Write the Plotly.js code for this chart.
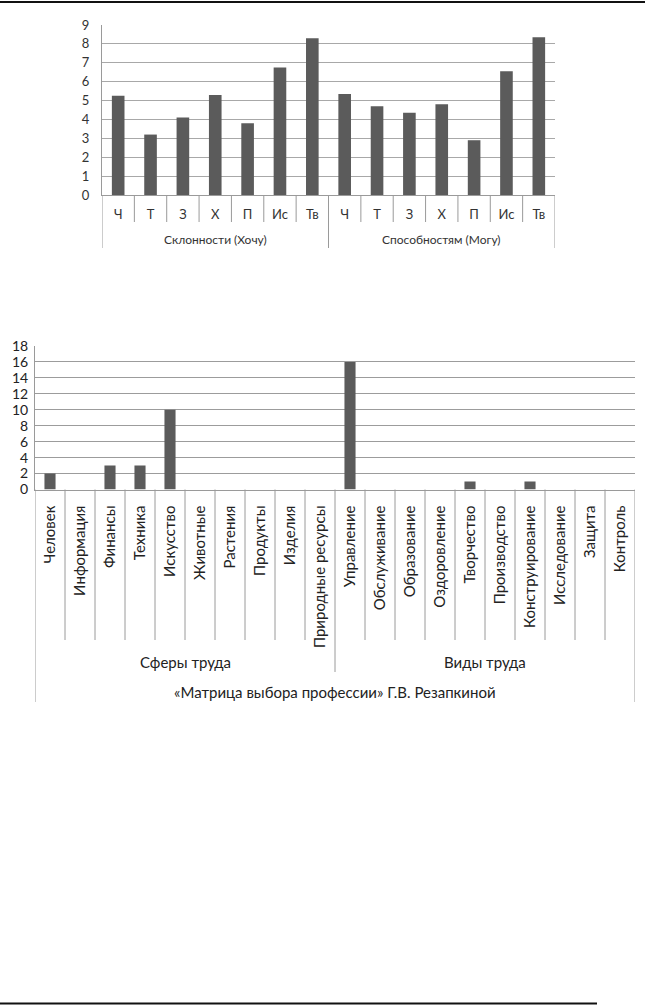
<!DOCTYPE html>
<html>
<head>
<meta charset="utf-8">
<script src="https://cdn.plot.ly/plotly-3.0.1.min.js"></script>
<style>
  html, body { margin: 0; padding: 0; background: #fff; }
  #graph { width: 646px; height: 1005px; }
</style>
</head>
<body>
<div id="graph"></div>
<script>
'use strict';

// top chart: inclinations vs abilities
var topCats = ['Ч', 'Т', 'З', 'Х', 'П', 'Ис', 'Тв'];
var topGroups = ['Склонности (Хочу)', 'Способностям (Могу)'];
var wantValues = [5.25, 3.2, 4.1, 5.3, 3.8, 6.75, 8.3];
var canValues = [5.35, 4.7, 4.35, 4.8, 2.9, 6.55, 8.35];
var topTicks = [0, 1, 2, 3, 4, 5, 6, 7, 8, 9];

// bottom chart: matrix of profession choice
var spheres = ['Человек', 'Информация', 'Финансы', 'Техника', 'Искусство',
  'Животные', 'Растения', 'Продукты', 'Изделия', 'Природные ресурсы'];
var kinds = ['Управление', 'Обслуживание', 'Образование', 'Оздоровление', 'Творчество',
  'Производство', 'Конструирование', 'Исследование', 'Защита', 'Контроль'];
var spheresValues = [2, 0, 3, 3, 10, 0, 0, 0, 0, 0];
var kindsValues = [16, 0, 0, 0, 1, 0, 1, 0, 0, 0];
var bottomGroups = ['Сферы труда', 'Виды труда'];
var bottomTitle = '«Матрица выбора профессии» Г.В. Резапкиной';
var bottomTicks = [0, 2, 4, 6, 8, 10, 12, 14, 16, 18];

var H = 1005, W = 646;
function py(v) { return 1 - v / H; }
function px(v) { return v / W; }

var FONT = 'Lato, "Open Sans", sans-serif';
var BAR = '#5b5b5b';
var GRID = '#a8a8a8';
var LINE = '#9a9a9a';

var topLabels = topCats.concat(topCats);
var topValues = wantValues.concat(canValues);
var topX = topLabels.map(function (d, i) { return i; });

var botLabels = spheres.concat(kinds);
var botValues = spheresValues.concat(kindsValues);
var botX = botLabels.map(function (d, i) { return i; });

var trace1 = {
  x: topX, y: topValues, type: 'bar', width: 0.39,
  marker: { color: BAR }, xaxis: 'x', yaxis: 'y', hoverinfo: 'y'
};
var trace2 = {
  x: botX, y: botValues, type: 'bar', width: 0.37,
  marker: { color: BAR }, xaxis: 'x2', yaxis: 'y2', hoverinfo: 'y'
};

var shapes = [];
var annotations = [];
function vline(xref, x, y0, y1) {
  shapes.push({ type: 'line', xref: xref, yref: 'paper', x0: x, x1: x,
    y0: py(y0), y1: py(y1), line: { color: LINE, width: 1 } });
}
function label(xref, x, y, text, size, color) {
  annotations.push({ xref: xref, yref: 'paper', x: x, y: py(y), yanchor: 'middle',
    xanchor: 'center', text: text, showarrow: false,
    font: { family: FONT, size: size, color: color } });
}

// top chart separators
var nTop = topCats.length;
for (var i = 1; i < topLabels.length; i++) {
  if (i % nTop !== 0) vline('x', i - 0.5, 195, 222);
}
for (var g = 0; g <= topGroups.length; g++) vline('x', g * nTop - 0.5, 195, 248);
topGroups.forEach(function (name, k) {
  label('x', k * nTop + (nTop - 1) / 2, 239, name, 12, '#333');
});

// bottom chart separators
var nBot = spheres.length;
for (var j = 1; j < botLabels.length; j++) {
  if (j !== nBot) vline('x2', j - 0.5, 489.5, 640);
}
vline('x2', nBot - 0.5, 489.5, 672);
vline('x2', -0.5, 489.5, 702);
vline('x2', botLabels.length - 0.5, 489.5, 702);
bottomGroups.forEach(function (name, k) {
  label('x2', k * nBot + (nBot - 1) / 2, 662, name, 15, '#222');
});
label('x2', (botLabels.length - 1) / 2, 692, bottomTitle, 15, '#222');

// page rules of the scanned book page
shapes.push({ type: 'line', xref: 'paper', yref: 'paper', x0: 0, x1: px(645),
  y0: py(2), y1: py(2), line: { color: '#111', width: 2 } });
shapes.push({ type: 'line', xref: 'paper', yref: 'paper', x0: 0, x1: px(597),
  y0: py(1003.5), y1: py(1003.5), line: { color: '#111', width: 2 } });

var layout = {
  width: W, height: H,
  margin: { l: 0, r: 0, t: 0, b: 0 },
  paper_bgcolor: '#fff', plot_bgcolor: '#fff',
  showlegend: false,
  font: { family: FONT, color: '#333' },
  xaxis: {
    domain: [px(102), px(555)], range: [-0.5, topLabels.length - 0.5],
    tickvals: topX, ticktext: topLabels, ticks: '',
    showgrid: false, zeroline: false, showline: true, linecolor: LINE,
    tickfont: { family: FONT, size: 13, color: '#333' }, ticklabelstandoff: 7,
    anchor: 'y', fixedrange: true
  },
  yaxis: {
    domain: [py(195), py(25)], range: [0, 9],
    tickvals: topTicks, ticks: '',
    showgrid: true, gridcolor: GRID, zeroline: false, showline: true, linecolor: LINE,
    tickfont: { family: FONT, size: 13, color: '#333' }, ticklabelstandoff: 9,
    anchor: 'x', fixedrange: true
  },
  xaxis2: {
    domain: [px(35), px(635)], range: [-0.5, botLabels.length - 0.5],
    tickvals: botX, ticktext: botLabels, ticks: '', tickangle: -90,
    showgrid: false, zeroline: false, showline: true, linecolor: LINE,
    tickfont: { family: FONT, size: 15, color: '#222' }, ticklabelstandoff: 9,
    anchor: 'y2', fixedrange: true
  },
  yaxis2: {
    domain: [py(489.5), py(346)], range: [0, 18],
    tickvals: bottomTicks, ticks: '',
    showgrid: true, gridcolor: '#9c9c9c', zeroline: false, showline: true, linecolor: LINE,
    tickfont: { family: FONT, size: 14, color: '#222' }, ticklabelstandoff: 3,
    anchor: 'x2', fixedrange: true
  },
  shapes: shapes,
  annotations: annotations
};

Plotly.newPlot('graph', [trace1, trace2], layout, { displayModeBar: false, staticPlot: true });
</script>
</body>
</html>
